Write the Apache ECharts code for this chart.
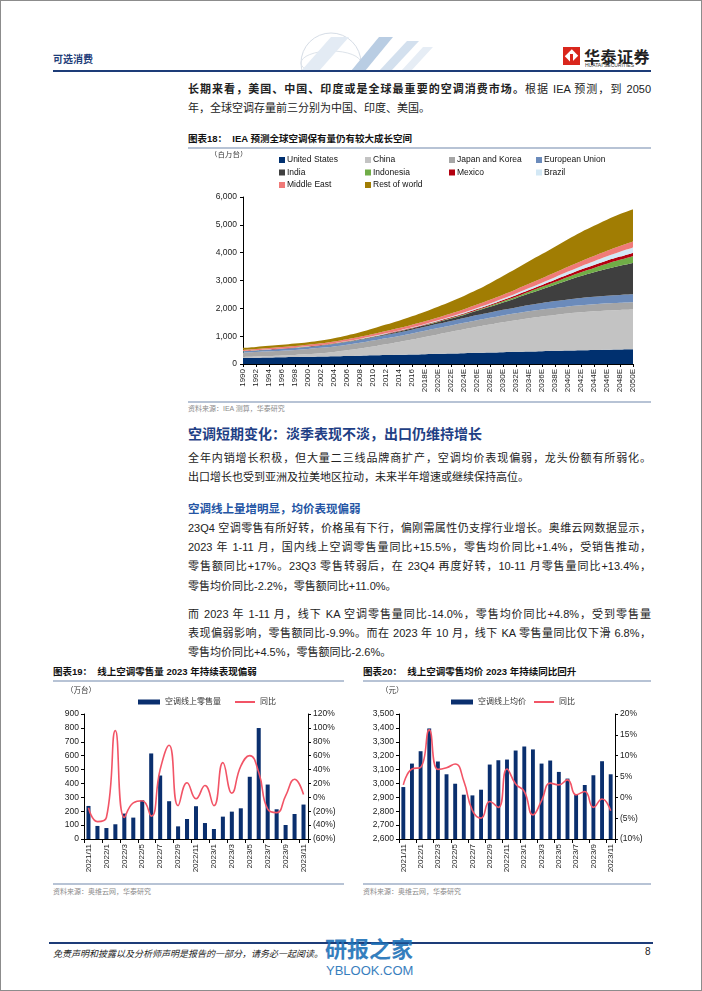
<!DOCTYPE html>
<html><head><meta charset="utf-8">
<script src="https://cdn.jsdelivr.net/npm/echarts@6/dist/echarts.min.js"></script>
<style>
html,body{margin:0;padding:0;background:#fff;}
#page{position:relative;width:702px;height:991px;overflow:hidden;font-family:"Liberation Sans","Noto Sans CJK SC",sans-serif;color:#1a1a1a;box-sizing:border-box;border:1px solid #8c8c8c;}
.t{position:absolute;white-space:nowrap;}
.ln{position:absolute;left:187px;width:463px;font-size:11px;line-height:16px;text-align:justify;text-align-last:justify;color:#222;}
.ll{text-align-last:left;}
.figt{position:absolute;font-size:9.5px;font-weight:bold;line-height:12px;color:#111;white-space:nowrap;}
.rule{position:absolute;height:2px;background:#b7c3d5;}
.src{position:absolute;font-size:7px;color:#8a8a8a;white-space:nowrap;line-height:10px;}
.chart{position:absolute;}
</style></head>
<body><div id="page">
<!-- header decoration -->
<svg style="position:absolute;left:260px;top:28px;" width="200" height="42">
  <circle cx="70" cy="34" r="30" fill="none" stroke="#d6dde6" stroke-width="1"/>
  <ellipse cx="70" cy="34" rx="30" ry="12" fill="none" stroke="#dde3ea" stroke-width="1"/>
  <polygon points="40,42 58,42 88,8 70,8" fill="#e3ebf4"/>
  <polygon points="90,42 104,42 132,8 118,8" fill="#b9cde3"/>
  <polygon points="118,42 130,42 158,12 146,12" fill="#d3e0ee"/>
  <polygon points="140,42 150,42 172,18 162,18" fill="#e6edf5"/>
</svg>
<div class="t" style="left:52px;top:50px;font-size:10px;font-weight:bold;color:#1d3c78;">可选消费</div>
<div style="position:absolute;left:562px;top:46px;width:17px;height:18px;background:#d9261c;"></div>
<div style="position:absolute;left:566px;top:50px;width:9px;height:10px;background:#fff;transform:rotate(45deg);"></div>
<div style="position:absolute;left:569px;top:53px;width:3px;height:11px;background:#d9261c;"></div>
<div class="t" style="left:583px;top:43px;font-size:16px;font-weight:bold;color:#222;letter-spacing:0.5px;">华泰证券</div>
<div class="t" style="left:584px;top:61px;font-size:5px;color:#333;">HUATAI SECURITIES</div>
<div style="position:absolute;left:52px;top:69px;width:598px;height:2px;background:#1d3c78;"></div>

<div class="ln" style="top:80px;"><b>长期来看，美国、中国、印度或是全球最重要的空调消费市场。</b>根据 IEA 预测，到 2050</div>
<div class="ln ll" style="top:99px;">年，全球空调存量前三分别为中国、印度、美国。</div>

<div class="figt" style="left:187px;top:132px;">图表18：&nbsp; IEA 预测全球空调保有量仍有较大成长空间</div>
<div class="rule" style="left:187px;top:146px;width:463px;"></div>
<div id="c1" class="chart" style="left:187px;top:150px;width:470px;height:250px;"></div>
<div class="rule" style="left:187px;top:400px;width:463px;"></div>
<div class="src" style="left:187px;top:403px;">资料来源：IEA 测算，华泰研究</div>

<div class="t" style="left:187px;top:422px;font-size:14px;font-weight:bold;color:#1f3f85;">空调短期变化：淡季表现不淡，出口仍维持增长</div>
<div class="ln" style="top:449px;">全年内销增长积极，但大量二三线品牌商扩产，空调均价表现偏弱，龙头份额有所弱化。</div>
<div class="ln ll" style="top:468px;">出口增长也受到亚洲及拉美地区拉动，未来半年增速或继续保持高位。</div>
<div class="t" style="left:187px;top:499px;font-size:11.5px;font-weight:bold;color:#2455a4;">空调线上量增明显，均价表现偏弱</div>
<div class="ln" style="top:519px;">23Q4 空调零售有所好转，价格虽有下行，偏刚需属性仍支撑行业增长。奥维云网数据显示，</div>
<div class="ln" style="top:538px;">2023 年 1-11 月，国内线上空调零售量同比+15.5%，零售均价同比+1.4%，受销售推动，</div>
<div class="ln" style="top:557px;">零售额同比+17%。23Q3 零售转弱后，在 23Q4 再度好转，10-11 月零售量同比+13.4%，</div>
<div class="ln ll" style="top:577px;">零售均价同比-2.2%，零售额同比+11.0%。</div>
<div class="ln" style="top:605px;">而 2023 年 1-11 月，线下 KA 空调零售量同比-14.0%，零售均价同比+4.8%，受到零售量</div>
<div class="ln" style="top:624px;">表现偏弱影响，零售额同比-9.9%。而在 2023 年 10 月，线下 KA 零售量同比仅下滑 6.8%，</div>
<div class="ln ll" style="top:643px;">零售均价同比+4.5%，零售额同比-2.6%。</div>

<div class="figt" style="left:52px;top:665px;">图表19：&nbsp; 线上空调零售量 2023 年持续表现偏弱</div>
<div class="rule" style="left:52px;top:679px;width:291px;"></div>
<div class="figt" style="left:362px;top:665px;">图表20：&nbsp; 线上空调零售均价 2023 年持续同比回升</div>
<div class="rule" style="left:362px;top:679px;width:288px;"></div>
<div id="c2" class="chart" style="left:40px;top:682px;width:310px;height:200px;"></div>
<div id="c3" class="chart" style="left:352px;top:682px;width:310px;height:200px;"></div>
<div class="rule" style="left:52px;top:882px;width:291px;"></div>
<div class="rule" style="left:362px;top:882px;width:288px;"></div>
<div class="src" style="left:52px;top:886px;">资料来源：奥维云网，华泰研究</div>
<div class="src" style="left:362px;top:886px;">资料来源：奥维云网，华泰研究</div>

<div style="position:absolute;left:48px;top:941px;width:604px;height:2px;background:#1d3c78;"></div>
<div class="t" style="left:52px;top:946px;font-size:9px;font-style:italic;color:#222;">免责声明和披露以及分析师声明是报告的一部分，请务必一起阅读。</div>
<div class="t" style="left:644px;top:945px;font-size:10px;color:#222;">8</div>
<div class="t" style="left:324px;top:930px;font-size:22px;font-weight:bold;color:#1f72b8;opacity:0.9;">研报之家</div>
<div class="t" style="left:325px;top:962px;font-size:13px;color:#1f72b8;opacity:0.9;">YBLOOK.COM</div>
</div>
<script>
// ---------- Figure 18 data ----------
var years = ['1990','1992','1994','1996','1998','2000','2002','2004','2006','2008','2010','2012','2014','2016',
 '2018E','2020E','2022E','2024E','2026E','2028E','2030E','2032E','2034E','2036E','2038E','2040E','2042E','2044E','2046E','2048E','2050E'];
var unitedStates = [220,228,236,244,252,260,270,280,290,300,310,320,330,340,352,364,376,388,400,412,424,436,448,460,472,484,496,506,516,524,530];
var china = [30,38,48,60,75,95,120,155,200,255,320,390,460,540,620,700,780,860,940,1010,1080,1140,1200,1250,1290,1330,1360,1385,1405,1420,1430];
var japanKorea = [160,165,170,175,180,185,190,195,200,205,210,213,216,219,222,225,228,231,234,237,240,243,246,249,252,254,256,258,260,261,262];
var europeanUnion = [50,55,60,65,70,75,80,88,96,104,112,120,128,136,145,155,165,175,185,195,205,215,225,235,245,253,260,266,272,277,280];
var india = [2,3,4,5,6,8,10,12,15,18,22,27,33,40,50,65,85,110,150,200,260,330,410,495,590,690,790,880,970,1050,1130];
var indonesia = [1,1,1,2,2,2,3,3,4,5,6,7,8,10,12,15,19,24,30,37,46,56,68,82,98,116,136,158,182,210,240];
var mexico = [5,5,6,6,7,7,8,9,10,11,12,14,16,18,20,23,26,30,35,40,46,53,60,68,77,86,95,103,110,116,120];
var brazil = [3,3,4,4,5,5,6,7,8,9,10,12,14,16,19,22,26,31,37,44,52,61,71,82,94,107,120,133,152,172,190];
var middleEast = [40,42,44,47,50,53,56,60,65,70,76,82,88,94,100,106,112,118,124,130,137,144,151,158,166,174,182,190,200,210,220];
var restOfWorld = [70,75,80,85,90,95,105,120,140,165,195,230,265,300,340,385,430,480,530,600,670,740,810,870,930,990,1040,1085,1120,1145,1160];

// ---------- Figure 19 / 20 data ----------
var months = ['2021/11','2021/12','2022/1','2022/2','2022/3','2022/4','2022/5','2022/6','2022/7','2022/8','2022/9','2022/10','2022/11','2022/12',
 '2023/1','2023/2','2023/3','2023/4','2023/5','2023/6','2023/7','2023/8','2023/9','2023/10','2023/11'];
var onlineVolume = [238,94,79,106,183,154,279,616,457,272,91,144,236,115,72,161,197,221,448,799,392,214,101,180,248];
var volumeYoY = [-15,-35,-29,96,-29,-8,-5,-27,40,75,-12,21,-2,17,-12,50,6,45,60,36,-17,-22,2,26,4];
var onlinePrice = [2974,3143,3232,3396,3158,3066,2998,2919,2914,2955,3136,3167,3172,3237,3266,3245,3143,3165,3083,3035,2919,2989,3059,3160,3066];
var priceYoY = [3.0,6.8,7.2,16.2,6.7,7.1,8.0,3.9,-3.2,-5.0,-1.0,-2.4,6.8,3.2,1.4,-4.2,-0.8,3.4,3.0,4.2,0.6,1.4,-2.4,-0.4,-3.2];

var FONT = '"Liberation Sans","Noto Sans CJK SC",sans-serif';
var names18 = ['United States','China','Japan and Korea','European Union','India','Indonesia','Mexico','Brazil','Middle East','Rest of world'];
var data18 = [unitedStates,china,japanKorea,europeanUnion,india,indonesia,mexico,brazil,middleEast,restOfWorld];
var colors18 = ['#00306f','#c3c3c3','#a6a6a6','#6b8bbb','#3f3f3f','#70ad47','#b3000f','#d3e8f5','#f07a78','#a17d03'];

function legendCol(items, left){
  return {data: items, left: left, top: -1, orient:'vertical', itemWidth:6, itemHeight:6, itemGap:2.5,
    icon:'rect', selectedMode:false, textStyle:{fontSize:8.5, color:'#111', fontFamily:FONT, padding:[0,0,0,-3], lineHeight:10}};
}
var c1 = echarts.init(document.getElementById('c1'));
c1.setOption({
  animation:false,
  color: colors18,
  textStyle:{fontFamily:FONT},
  legend:[legendCol(['United States','India','Middle East'],86), legendCol(['China','Indonesia','Rest of world'],172),
          legendCol(['Japan and Korea','Mexico'],256), legendCol(['European Union','Brazil'],343)],
  graphic:[{type:'text', left:22, top:0, style:{text:'（百万台）', fontSize:7.5, fill:'#333', fontFamily:FONT}}],
  grid:{left:55, top:46, width:390, height:167},
  xAxis:{type:'category', data: years, boundaryGap:false,
    axisLine:{onZero:false, lineStyle:{color:'#000', width:1}}, axisTick:{show:true, length:3, lineStyle:{color:'#000'}},
    axisLabel:{rotate:90, fontSize:8, color:'#222', interval:0, margin:5}},
  yAxis:{type:'value', min:0, max:6000, interval:1000, splitLine:{show:false},
    axisLine:{show:true, lineStyle:{color:'#000'}}, axisTick:{show:true, length:3, lineStyle:{color:'#000'}},
    axisLabel:{fontSize:8.5, color:'#222', margin:6, formatter:function(v){return v.toLocaleString('en-US');}}},
  series: names18.map(function(n,i){return {name:n, type:'line', stack:'all', smooth:0.4, symbol:'none',
    lineStyle:{width:0}, areaStyle:{opacity:1, color:colors18[i]}, data:data18[i]};})
});

function pctFmt(v){ return v<0 ? '('+(-v)+'%)' : v+'%'; }
function dualChart(el, cats, bars, line, barName, unit, gl, gw, lmin, lmax, lint, rmin, rmax, rint, legLeft, lineLegLeft, leftFmt){
  var c = echarts.init(document.getElementById(el));
  c.setOption({
    animation:false,
    textStyle:{fontFamily:FONT},
    legend:[
      {left:legLeft, top:10, itemWidth:22, itemHeight:5, selectedMode:false,
       textStyle:{fontSize:8, color:'#333', fontFamily:FONT}, data:[{name:barName, icon:'rect'}]},
      {left:lineLegLeft, top:10, itemWidth:20, itemHeight:2, selectedMode:false,
       textStyle:{fontSize:8, color:'#333', fontFamily:FONT}, data:[{name:'同比', icon:'rect'}]}
    ],
    graphic:[{type:'text', left: gl-18, top:4, style:{text:unit, fontSize:7.5, fill:'#333', fontFamily:FONT}}],
    grid:{left:gl, top:31, width:gw, height:125},
    xAxis:{type:'category', data:cats, boundaryGap:true,
      axisLine:{onZero:false, lineStyle:{color:'#000'}}, axisTick:{show:true, interval:1, length:4, lineStyle:{color:'#000'}},
      axisLabel:{rotate:90, interval:1, fontSize:8, color:'#222', margin:5}},
    yAxis:[
      {type:'value', min:lmin, max:lmax, interval:lint, splitLine:{show:false},
       axisLine:{show:true, lineStyle:{color:'#000'}}, axisTick:{show:true, length:3, lineStyle:{color:'#000'}},
       axisLabel:{fontSize:8.5, color:'#222', margin:5, formatter:leftFmt}},
      {type:'value', min:rmin, max:rmax, interval:rint, splitLine:{show:false}, position:'right',
       axisLine:{show:true, lineStyle:{color:'#000'}}, axisTick:{show:true, length:3, lineStyle:{color:'#000'}},
       axisLabel:{fontSize:8.5, color:'#222', margin:5, formatter:pctFmt}}
    ],
    series:[
      {name:barName, type:'bar', data:bars, barWidth:'45%', itemStyle:{color:'#0a2f6e'}},
      {name:'同比', type:'line', yAxisIndex:1, data:line, smooth:0.5, symbol:'none', showSymbol:false,
       lineStyle:{color:'#f25466', width:1.6}, itemStyle:{color:'#f25466'}}
    ]
  });
}
dualChart('c2', months, onlineVolume, volumeYoY, '空调线上零售量', '（万台）', 43, 224, 0, 900, 100, -60, 120, 20, 92, 189, function(v){return v;});
dualChart('c3', months, onlinePrice, priceYoY, '空调线上均价', '（元）', 46, 216, 2600, 3500, 100, -10, 20, 5, 93, 176, function(v){return v.toLocaleString('en-US');});
</script>
</body></html>
